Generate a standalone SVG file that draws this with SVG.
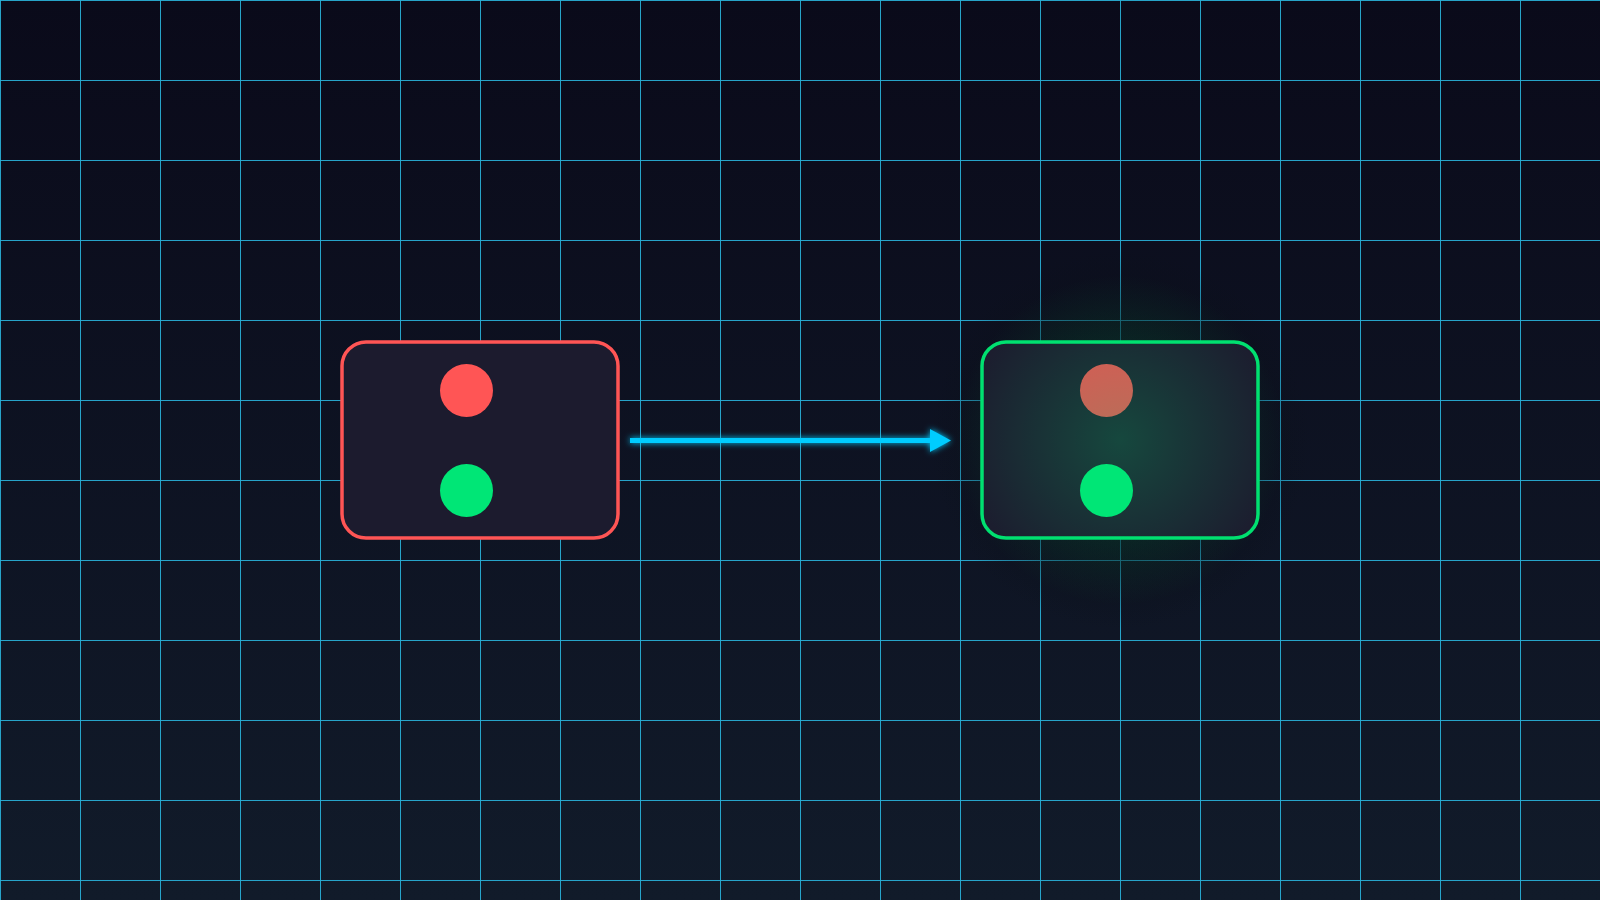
<svg xmlns="http://www.w3.org/2000/svg" width="1600" height="900" viewBox="0 0 1600 900">
  <defs>
    <linearGradient id="bg" x1="0" y1="0" x2="0" y2="1">
      <stop offset="0" stop-color="#0a0a1a"/>
      <stop offset="1" stop-color="#111b2a"/>
    </linearGradient>
    <radialGradient id="shade" cx="1120" cy="440" r="190" gradientUnits="userSpaceOnUse">
      <stop offset="0" stop-color="#0a1018" stop-opacity="0.85"/>
      <stop offset="0.6" stop-color="#0a1018" stop-opacity="0.55"/>
      <stop offset="1" stop-color="#0a1018" stop-opacity="0"/>
    </radialGradient>
    <radialGradient id="glow" cx="1120" cy="440" r="165" gradientUnits="userSpaceOnUse">
      <stop offset="0" stop-color="#00e676" stop-opacity="0.22"/>
      <stop offset="1" stop-color="#00e676" stop-opacity="0"/>
    </radialGradient>
    <filter id="neon" filterUnits="userSpaceOnUse" x="600" y="410" width="380" height="60">
      <feGaussianBlur in="SourceGraphic" stdDeviation="3" result="b"/>
      <feMerge>
        <feMergeNode in="b"/>
        <feMergeNode in="SourceGraphic"/>
      </feMerge>
    </filter>
    <marker id="arrowhead" markerUnits="userSpaceOnUse" markerWidth="22" markerHeight="23" refX="0" refY="11.5" orient="auto">
      <path d="M0,0 L21,11.5 L0,23 Z" fill="#00ccff"/>
    </marker>
  </defs>
  <style>
    .grid line { stroke: #2ab4dc; stroke-width: 1; stroke-opacity: 0.9; }
    .box { fill: #1c1b2e; stroke-width: 3.5; }
    .red { fill: #ff5555; }
    .green { fill: #00e676; }
  </style>

  <rect width="1600" height="900" fill="url(#bg)"/>

  <g id="grid" class="grid">
    <line x1="0.5" y1="0" x2="0.5" y2="900"/>
    <line x1="80.5" y1="0" x2="80.5" y2="900"/>
    <line x1="160.5" y1="0" x2="160.5" y2="900"/>
    <line x1="240.5" y1="0" x2="240.5" y2="900"/>
    <line x1="320.5" y1="0" x2="320.5" y2="900"/>
    <line x1="400.5" y1="0" x2="400.5" y2="900"/>
    <line x1="480.5" y1="0" x2="480.5" y2="900"/>
    <line x1="560.5" y1="0" x2="560.5" y2="900"/>
    <line x1="640.5" y1="0" x2="640.5" y2="900"/>
    <line x1="720.5" y1="0" x2="720.5" y2="900"/>
    <line x1="800.5" y1="0" x2="800.5" y2="900"/>
    <line x1="880.5" y1="0" x2="880.5" y2="900"/>
    <line x1="960.5" y1="0" x2="960.5" y2="900"/>
    <line x1="1040.5" y1="0" x2="1040.5" y2="900"/>
    <line x1="1120.5" y1="0" x2="1120.5" y2="900"/>
    <line x1="1200.5" y1="0" x2="1200.5" y2="900"/>
    <line x1="1280.5" y1="0" x2="1280.5" y2="900"/>
    <line x1="1360.5" y1="0" x2="1360.5" y2="900"/>
    <line x1="1440.5" y1="0" x2="1440.5" y2="900"/>
    <line x1="1520.5" y1="0" x2="1520.5" y2="900"/>
    <line x1="0" y1="0.5" x2="1600" y2="0.5"/>
    <line x1="0" y1="80.5" x2="1600" y2="80.5"/>
    <line x1="0" y1="160.5" x2="1600" y2="160.5"/>
    <line x1="0" y1="240.5" x2="1600" y2="240.5"/>
    <line x1="0" y1="320.5" x2="1600" y2="320.5"/>
    <line x1="0" y1="400.5" x2="1600" y2="400.5"/>
    <line x1="0" y1="480.5" x2="1600" y2="480.5"/>
    <line x1="0" y1="560.5" x2="1600" y2="560.5"/>
    <line x1="0" y1="640.5" x2="1600" y2="640.5"/>
    <line x1="0" y1="720.5" x2="1600" y2="720.5"/>
    <line x1="0" y1="800.5" x2="1600" y2="800.5"/>
    <line x1="0" y1="880.5" x2="1600" y2="880.5"/>
  </g>

  <circle cx="1120" cy="440" r="190" fill="url(#shade)"/>

  <g id="node-before">
    <rect class="box" x="342" y="342" width="276" height="196" rx="24" stroke="#ff5555"/>
    <circle class="red" cx="466.5" cy="390.5" r="26.5"/>
    <circle class="green" cx="466.5" cy="490.5" r="26.5"/>
  </g>

  <g id="node-after">
    <rect class="box" x="982" y="342" width="276" height="196" rx="24" stroke="#00e070"/>
    <circle class="red" cx="1106.5" cy="390.5" r="26.5" opacity="0.9"/>
    <circle class="green" cx="1106.5" cy="490.5" r="26.5"/>
    <circle cx="1120" cy="440" r="165" fill="url(#glow)"/>
  </g>

  <g id="connectors" filter="url(#neon)">
    <line x1="630" y1="440.5" x2="930" y2="440.5" stroke="#00ccff" stroke-width="5" marker-end="url(#arrowhead)"/>
  </g>
</svg>
